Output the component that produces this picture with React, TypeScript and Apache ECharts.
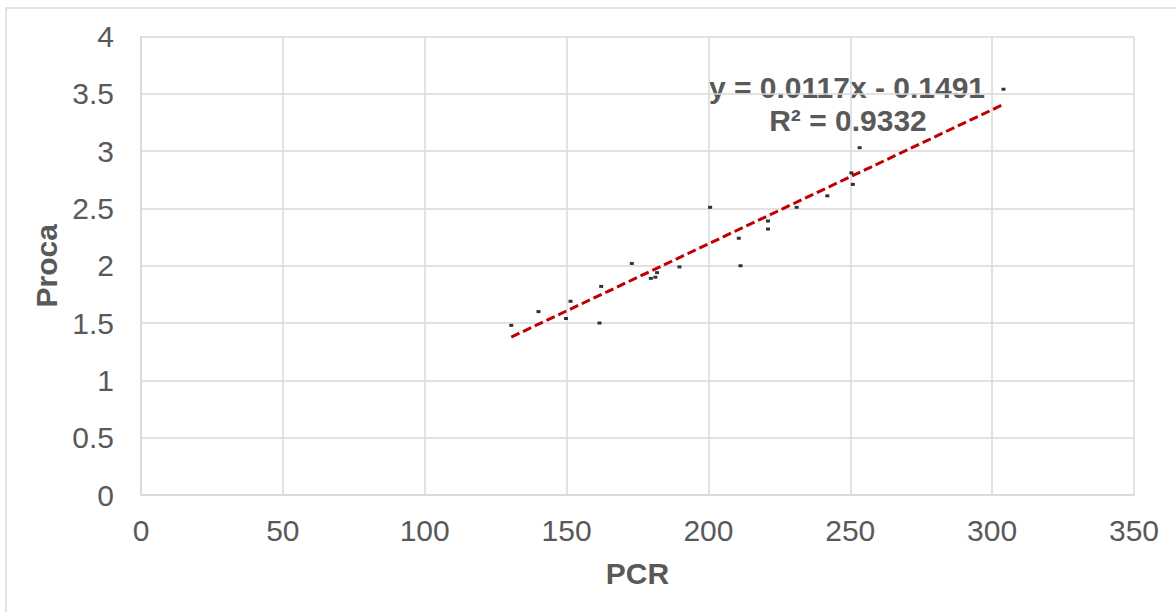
import React, { useEffect, useRef } from "react";
import * as echarts from "echarts";

const pcr = [130.5, 140.1, 149.8, 151.4, 161.6, 162.2, 173.0, 179.7, 181.3, 181.9, 189.8, 200.6, 210.7, 211.3, 221.0, 221.0, 231.1, 241.9, 250.4, 250.9, 253.3, 304.0];
const proca = [1.48, 1.60, 1.54, 1.69, 1.50, 1.82, 2.02, 1.89, 1.90, 1.94, 1.99, 2.51, 2.24, 2.00, 2.39, 2.32, 2.51, 2.61, 2.81, 2.71, 3.03, 3.54];
const slope = 0.0117;
const intercept = -0.1491;
const equationText = "y = 0.0117x - 0.1491";
const r2Text = "R² = 0.9332";

export default function App() {
  const ref = useRef<HTMLDivElement>(null);
  useEffect(() => {
    if (!ref.current) return;
    const chart = echarts.init(ref.current, undefined, { renderer: "svg" });
    const points = pcr.map((x, i) => [x, proca[i]]);
    const xMin = Math.min(...pcr);
    const xMax = Math.max(...pcr);
    const trend = [
      [xMin, slope * xMin + intercept],
      [xMax, slope * xMax + intercept],
    ];
    const txt = "#595959";
    const font = "'Liberation Sans', Arial, sans-serif";
    chart.setOption({
      animation: false,
      backgroundColor: "#ffffff",
      grid: { left: 141, right: 42, top: 36.5, bottom: 117 },
      xAxis: {
        type: "value",
        min: 0,
        max: 350,
        interval: 50,
        name: "PCR",
        nameLocation: "middle",
        nameGap: 63,
        nameTextStyle: { color: txt, fontSize: 30, fontWeight: "bold", fontFamily: font },
        axisLine: { show: true, lineStyle: { color: "#d9d9d9", width: 1.5 } },
        axisTick: { show: false },
        axisLabel: { color: txt, fontSize: 30, fontFamily: font, margin: 20 },
        splitLine: { show: true, lineStyle: { color: "#d9d9d9", width: 1.5 } },
      },
      yAxis: {
        type: "value",
        min: 0,
        max: 4,
        interval: 0.5,
        name: "Proca",
        nameLocation: "middle",
        nameGap: 75,
        nameRotate: 90,
        nameTextStyle: { color: txt, fontSize: 30, fontWeight: "bold", fontFamily: font },
        axisLine: { show: true, lineStyle: { color: "#d9d9d9", width: 1.5 } },
        axisTick: { show: false },
        axisLabel: { color: txt, fontSize: 30, fontFamily: font, margin: 27 },
        splitLine: { show: true, lineStyle: { color: "#d9d9d9", width: 1.5 } },
      },
      graphic: [
        {
          type: "rect",
          shape: { x: 6, y: 8, width: 1200, height: 700 },
          style: { fill: "none", stroke: "#d9d9d9", lineWidth: 1.5 },
          z: -1,
        },
        {
          type: "text",
          x: 847,
          y: 72,
          style: { text: equationText, fill: txt, fontSize: 30, fontWeight: "bold", fontFamily: font, textAlign: "center" },
        },
        {
          type: "text",
          x: 848,
          y: 105,
          style: { text: r2Text, fill: txt, fontSize: 30, fontWeight: "bold", fontFamily: font, textAlign: "center" },
        },
      ],
      series: [
        {
          type: "scatter",
          data: points,
          symbol: "rect",
          symbolSize: [4, 3],
          itemStyle: { color: "#000000" },
          z: 3,
        },
        {
          type: "line",
          data: trend,
          showSymbol: false,
          symbol: "none",
          lineStyle: { color: "#c00000", width: 3, type: [9, 4] },
          z: 2,
        },
      ],
    });
    return () => chart.dispose();
  }, []);
  return <div ref={ref} style={{ width: 1176, height: 612, position: "absolute", left: 0, top: 0 }} />;
}
